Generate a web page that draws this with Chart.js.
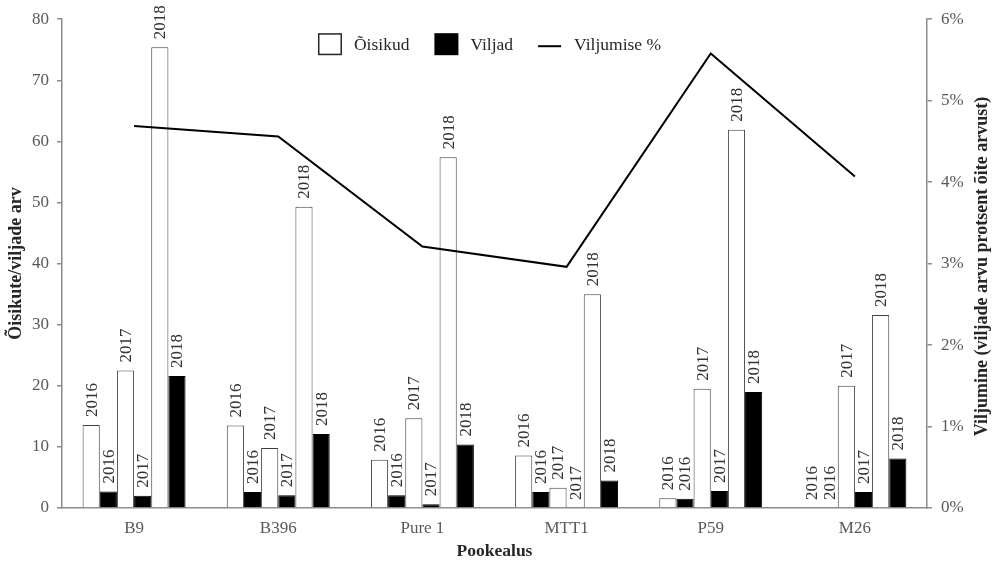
<!DOCTYPE html>
<html>
<head>
<meta charset="utf-8">
<script src="https://cdn.jsdelivr.net/npm/chart.js@4/dist/chart.umd.min.js"></script>
<style>
  html, body { margin: 0; padding: 0; background: #ffffff; }
  #wrap { width: 996px; height: 564px; }
</style>
</head>
<body>
<div id="wrap"><canvas id="chart" width="996" height="564"></canvas></div>
<script>
// Rootstocks (Pookealus)
const categories = ['B9', 'B396', 'Pure 1', 'MTT1', 'P59', 'M26'];
const years = ['2016', '2017', '2018'];

// Flower clusters (Õisikud) per year
const oisikud2016 = [13.6, 13.5, 7.9, 8.6, 1.6, 0];
const oisikud2017 = [22.5, 9.8, 14.7, 3.3, 19.5, 20.0];
const oisikud2018 = [75.4, 49.3, 57.4, 35.0, 61.9, 31.6];

// Fruits (Viljad) per year
const viljad2016 = [2.7, 2.6, 2.1, 2.6, 1.5, 0];
const viljad2017 = [2.0, 2.1, 0.6, 0, 2.8, 2.6];
const viljad2018 = [21.6, 12.1, 10.4, 4.5, 19.0, 8.1];

// Fruit set, % of flowers (right axis)
const viljumine = [4.69, 4.56, 3.21, 2.96, 5.58, 4.07];

const legendLabels = ['Õisikud', 'Viljad', 'Viljumise %'];
const leftTitle = 'Õisikute/viljade arv';
const rightTitle = 'Viljumine (viljade arvu protsent õite arvust)';
const bottomTitle = 'Pookealus';

const FONT = '"Liberation Serif", "Times New Roman", serif';
const AXIS_GRAY = '#8c8c8c';
const TICK_GRAY = '#595959';
const TEXT_DARK = '#262626';

function openBar(data, year) {
  return {
    type: 'bar', label: legendLabels[0] + ' ' + year, year: year, data: data,
    backgroundColor: '#ffffff', borderColor: '#404040', borderWidth: 1,
    yAxisID: 'y', order: 1
  };
}
function solidBar(data, year) {
  return {
    type: 'bar', label: legendLabels[1] + ' ' + year, year: year, data: data,
    backgroundColor: '#000000', borderColor: '#000000', borderWidth: 1,
    yAxisID: 'y', order: 1
  };
}

// Rotated year labels above every bar
const yearLabelPlugin = {
  id: 'yearLabels',
  afterDatasetsDraw(chart) {
    const ctx = chart.ctx;
    ctx.save();
    ctx.font = '17px ' + FONT;
    ctx.fillStyle = '#333333';
    ctx.textAlign = 'left';
    ctx.textBaseline = 'middle';
    chart.data.datasets.forEach((ds, i) => {
      if (ds.type !== 'bar') return;
      const meta = chart.getDatasetMeta(i);
      meta.data.forEach((el) => {
        ctx.save();
        ctx.translate(el.x + 1, el.y - 8);
        ctx.rotate(-Math.PI / 2);
        ctx.fillText(ds.year, 0, 0);
        ctx.restore();
      });
    });
    ctx.restore();
  }
};

// Single-row legend placed inside the top of the plot area
const legendRowPlugin = {
  id: 'legendRow',
  afterDraw(chart) {
    const { ctx, chartArea } = chart;
    ctx.save();
    ctx.font = '17.5px ' + FONT;
    const kinds = ['open', 'solid', 'line'];
    const sw = 24, sh = 22, gap = 12, spacing = 25;
    const widths = legendLabels.map(t => ctx.measureText(t).width);
    let total = 0;
    widths.forEach((w, i) => { total += sw + gap + w + (i < widths.length - 1 ? spacing : 0); });
    let x = (chartArea.left + chartArea.right) / 2 - total / 2 - 5;
    const top = chartArea.top + 14;
    const mid = top + sh / 2;
    kinds.forEach((k, i) => {
      if (k === 'open') {
        ctx.fillStyle = '#ffffff';
        ctx.fillRect(x, top, sw, sh);
        ctx.strokeStyle = '#262626';
        ctx.lineWidth = 1.5;
        ctx.strokeRect(x + 0.75, top + 0.75, sw - 1.5, sh - 1.5);
      } else if (k === 'solid') {
        ctx.fillStyle = '#000000';
        ctx.fillRect(x, top, sw, sh);
      } else {
        ctx.strokeStyle = '#000000';
        ctx.lineWidth = 2;
        ctx.beginPath();
        ctx.moveTo(x, mid + 2);
        ctx.lineTo(x + sw - 1, mid + 2);
        ctx.stroke();
      }
      ctx.fillStyle = TEXT_DARK;
      ctx.textAlign = 'left';
      ctx.textBaseline = 'middle';
      ctx.fillText(legendLabels[i], x + sw + gap, mid + 1);
      x += sw + gap + widths[i] + spacing;
    });
    ctx.restore();
  }
};

// Right axis title, reading bottom to top
const rightTitlePlugin = {
  id: 'rightTitle',
  afterDraw(chart) {
    const { ctx, chartArea } = chart;
    const scale = chart.scales.y1;
    ctx.save();
    ctx.font = 'bold 18px ' + FONT;
    ctx.fillStyle = TEXT_DARK;
    ctx.textAlign = 'center';
    ctx.textBaseline = 'middle';
    ctx.translate(scale.right - 14, (chartArea.top + chartArea.bottom) / 2 + 3);
    ctx.rotate(-Math.PI / 2);
    ctx.fillText(rightTitle, 0, 0);
    ctx.restore();
  }
};

new Chart(document.getElementById('chart'), {
  data: {
    labels: categories,
    datasets: [
      openBar(oisikud2016, years[0]),
      solidBar(viljad2016, years[0]),
      openBar(oisikud2017, years[1]),
      solidBar(viljad2017, years[1]),
      openBar(oisikud2018, years[2]),
      solidBar(viljad2018, years[2]),
      {
        type: 'line', label: legendLabels[2], data: viljumine, yAxisID: 'y1',
        borderColor: '#000000', borderWidth: 2, pointRadius: 0, tension: 0,
        fill: false, order: 0
      }
    ]
  },
  options: {
    responsive: false,
    devicePixelRatio: 1,
    animation: false,
    layout: { padding: { top: 19, left: 0, right: 0, bottom: 0 } },
    datasets: { bar: { categoryPercentage: 0.714, barPercentage: 1.0 } },
    plugins: { legend: { display: false }, tooltip: { enabled: false } },
    scales: {
      x: {
        offset: true,
        grid: { display: false, drawTicks: false },
        border: { display: true, color: AXIS_GRAY, width: 1.5 },
        ticks: { color: TICK_GRAY, font: { family: FONT, size: 17 }, padding: 10 },
        title: {
          display: true, text: bottomTitle, color: TEXT_DARK,
          font: { family: FONT, size: 17.5, weight: 'bold', lineHeight: 1.2 },
          padding: { top: 0, bottom: 2 }
        },
        afterFit(s) { s.height = 56; }
      },
      y: {
        position: 'left', min: 0, max: 80,
        grid: { drawOnChartArea: false, drawTicks: true, tickLength: 5, color: AXIS_GRAY, lineWidth: 1.5 },
        border: { display: true, color: AXIS_GRAY, width: 1.5 },
        ticks: { stepSize: 10, color: TICK_GRAY, font: { family: FONT, size: 17 }, padding: 8 },
        title: {
          display: true, text: leftTitle, color: TEXT_DARK,
          font: { family: FONT, size: 18, weight: 'bold', lineHeight: 1.2 },
          padding: { top: 6, bottom: 0 }
        },
        afterFit(s) { s.width = 62; }
      },
      y1: {
        position: 'right', min: 0, max: 6,
        grid: { drawOnChartArea: false, drawTicks: true, tickLength: 5, color: AXIS_GRAY, lineWidth: 1.5 },
        border: { display: true, color: AXIS_GRAY, width: 1.5 },
        ticks: { stepSize: 1, color: TICK_GRAY, font: { family: FONT, size: 17 }, padding: 9,
                 callback: (v) => v + '%' },
        afterFit(s) { s.width = 69; }
      }
    }
  },
  plugins: [yearLabelPlugin, legendRowPlugin, rightTitlePlugin]
});
</script>
</body>
</html>
